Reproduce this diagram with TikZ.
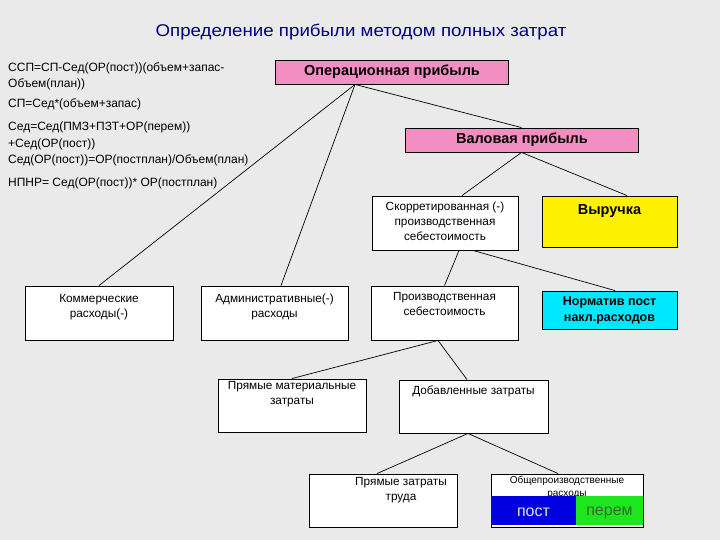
\documentclass[tikz,border=0pt]{standalone}
\usepackage{fontspec}
\setmainfont{Liberation Sans}
\newfontfamily\widefont{Liberation Sans}[FakeStretch=1.1]
\definecolor{bgc}{RGB}{234,234,234}
\definecolor{pinkc}{RGB}{242,142,194}
\definecolor{titlec}{RGB}{0,0,128}
\definecolor{cyanc}{RGB}{0,232,255}
\definecolor{bluec}{RGB}{0,0,225}
\definecolor{greenc}{RGB}{30,230,30}
\definecolor{peremc}{RGB}{55,105,55}
\definecolor{postc}{RGB}{225,225,235}
\begin{document}
\begin{tikzpicture}[x=1pt,y=-1pt,
  box/.style={draw=black,line width=0.9pt,rectangle,inner sep=0pt,fill=white},
  conn/.style={draw=black,line width=0.7pt},
  formula/.style={anchor=base west,inner sep=0pt,font=\fontsize{12}{13}\selectfont},
  txt/.style={anchor=north,inner sep=0pt,align=center,font=\fontsize{11.8}{15}\selectfont},
  head/.style={anchor=center,inner sep=0pt,font=\fontsize{14.5}{16}\selectfont\bfseries},
]
\fill[bgc] (0,0) rectangle (720,540);
\useasboundingbox (0,0) rectangle (720,540);

% title
\node[font=\widefont\fontsize{17}{20}\selectfont,text=titlec,inner sep=0pt] (title) at (361,32) {Определение прибыли методом полных затрат};

% formulas
\node[formula] (f1) at (8,72) {ССП=СП-Сед(ОР(пост))(объем+запас-};
\node[formula] (f2) at (8,88) {Объем(план))};
\node[formula] (f3) at (8,108) {СП=Сед*(объем+запас)};
\node[formula] (f4) at (8,131) {Сед=Сед(ПМЗ+ПЗТ+ОР(перем))};
\node[formula] (f5) at (8,148) {+Сед(ОР(пост))};
\node[formula] (f6) at (8,164) {Сед(ОР(пост))=ОР(постплан)/Объем(план)};
\node[formula] (f7) at (8,187) {НПНР= Сед(ОР(пост))* ОР(постплан)};

% boxes
\node[box,fill=pinkc,minimum width=233pt,minimum height=24pt] (op) at (391.5,72) {};
\node[head] (opt) at (392,71.5) {Операционная прибыль};
\node[box,fill=pinkc,minimum width=233pt,minimum height=24pt] (val) at (521.5,140) {};
\node[head] (valt) at (522,139.5) {Валовая прибыль};

\node[box,minimum width=146pt,minimum height=54pt] (skor) at (445,223) {};
\node[txt] (skort) at (445,201.5) {Скорретированная (-)\\производственная\\себестоимость};
\node[box,fill=yellow,minimum width=135pt,minimum height=51pt] (vyr) at (609.5,221.5) {};
\node[head] (vyrt) at (609.5,211) {Выручка};

\node[box,minimum width=148pt,minimum height=54pt] (kom) at (99,313) {};
\node[txt] (komt) at (99,294) {Коммерческие\\расходы(-)};
\node[box,minimum width=147pt,minimum height=54pt] (adm) at (274.5,313) {};
\node[txt] (admt) at (274.5,293.5) {Административные(-)\\расходы};
\node[box,minimum width=147pt,minimum height=54pt] (proizv) at (444.5,313) {};
\node[txt] (proizvt) at (444.5,292.5) {Производственная\\себестоимость};
\node[box,fill=cyanc,minimum width=135pt,minimum height=38pt] (norm) at (609.5,310) {};
\node[anchor=north,inner sep=0pt,align=center,font=\fontsize{12.5}{16}\selectfont\bfseries] (normt) at (609.5,297) {Норматив пост\\накл.расходов};

\node[box,minimum width=148pt,minimum height=53pt] (pmz) at (292,405.5) {};
\node[txt] (pmzt) at (292,381) {Прямые материальные\\затраты};
\node[box,minimum width=149pt,minimum height=53pt] (dob) at (473.5,406.5) {};
\node[txt] (dobt) at (473.5,386) {Добавленные затраты};

\node[box,minimum width=148pt,minimum height=53pt] (pzt) at (383,500.5) {};
\node[txt] (pztt) at (401,477) {Прямые затраты\\труда};
\node[box,minimum width=152pt,minimum height=53pt] (obsh) at (567,500.5) {};
\node[anchor=north,inner sep=0pt,align=center,font=\fontsize{10}{12.5}\selectfont] (obsht) at (567,476) {Общепроизводственные\\расходы};
\node[rectangle,fill=bluec,inner sep=0pt,minimum width=85pt,minimum height=29pt] (post) at (533.5,510.5) {};
\node[rectangle,fill=greenc,inner sep=0pt,minimum width=67pt,minimum height=29pt] (perem) at (609.5,510.5) {};
\node[font=\fontsize{16}{18}\selectfont,text=postc,inner sep=0pt] (postt) at (533.5,512.5) {пост};
\node[font=\fontsize{16}{18}\selectfont,text=peremc,inner sep=0pt] (peremt) at (609.5,512.5) {перем};

% connectors
\draw[conn] ([xshift=-36.5pt]op.south) -- (val.north);
\draw[conn] ([xshift=-36.5pt]op.south) -- (kom.north);
\draw[conn] ([xshift=-36.5pt]op.south) -- ([xshift=6.5pt]adm.north);
\draw[conn] (val.south) -- ([xshift=17pt]skor.north);
\draw[conn] (val.south) -- ([xshift=17.5pt]vyr.north);
\draw[conn] ([xshift=14pt]skor.south) -- (proizv.north);
\draw[conn] ([xshift=28pt]skor.south) -- ([xshift=5.5pt]norm.north);
\draw[conn] ([xshift=-6.5pt]proizv.south) -- (pmz.north);
\draw[conn] ([xshift=-6.5pt]proizv.south) -- ([xshift=-6.5pt]dob.north);
\draw[conn] ([xshift=-5.5pt]dob.south) -- ([xshift=-6pt]pzt.north);
\draw[conn] ([xshift=-5.5pt]dob.south) -- ([xshift=-9pt]obsh.north);
\end{tikzpicture}
\end{document}
